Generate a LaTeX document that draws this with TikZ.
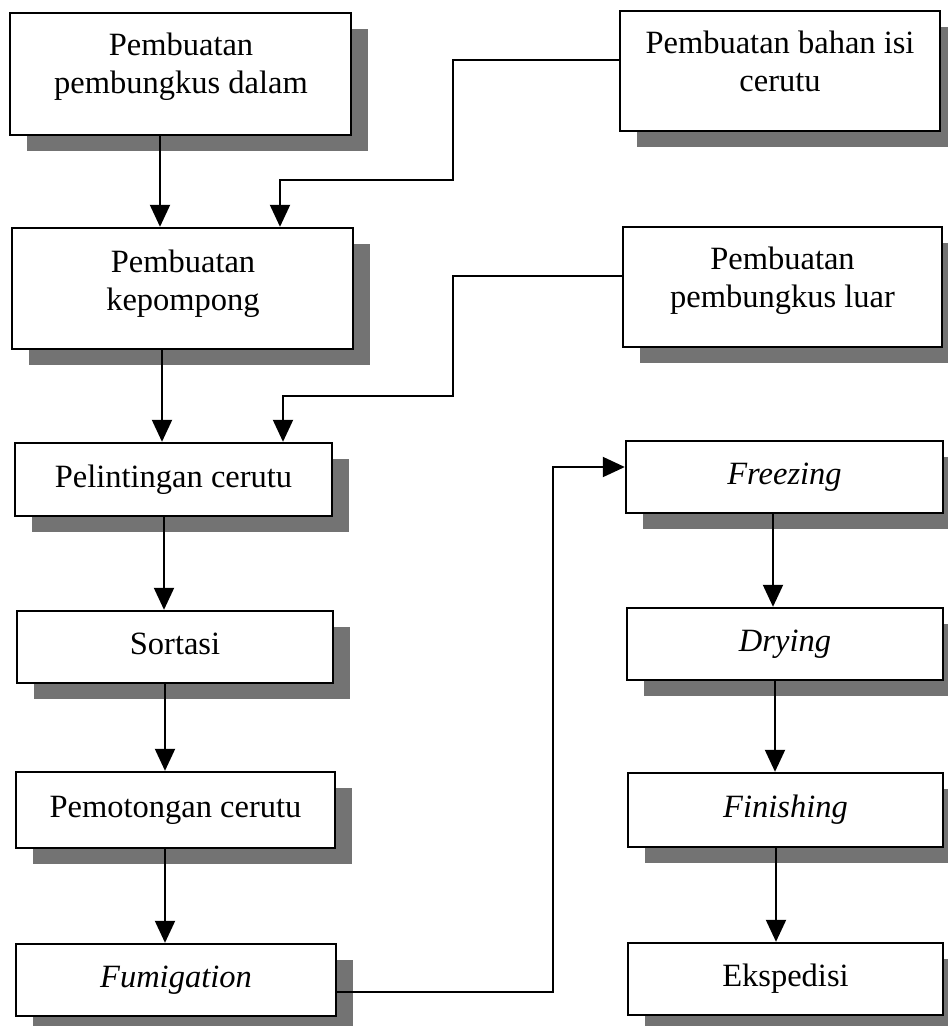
\documentclass[tikz,border=0pt]{standalone}
\usepackage{fontspec}
\setmainfont{Liberation Serif}
\usetikzlibrary{arrows.meta,shadows}
\begin{document}
\begin{tikzpicture}[x=1pt,y=-1pt,
  box/.style={draw=black, line width=2.4pt, fill=white, inner sep=0pt,
    general shadow={fill=black!55, shadow xshift=17pt, shadow yshift=-16pt}},
  txt/.style={font=\fontsize{32.5}{37.5}\selectfont, align=center, inner sep=0pt},
  one/.style={txt, text height=22pt, text depth=7pt},
  conn/.style={line width=2pt, -{Triangle[length=22pt,width=20pt]}},
]
\path[use as bounding box] (0,0) rectangle (948,1026);
\clip (0,0) rectangle (948,1026);

% left column
\node[box, minimum width=341pt, minimum height=122pt] (A) at (180.5,74) {};
\node[txt, anchor=north] (tA) at (181,33) {Pembuatan\\pembungkus dalam};
\node[box, minimum width=341pt, minimum height=121pt] (C) at (182.5,288.5) {};
\node[txt, anchor=north] (tC) at (183,250) {Pembuatan\\kepompong};
\node[box, one, minimum width=317pt, minimum height=73pt] (E) at (173.5,479.5) {Pelintingan cerutu};
\node[box, one, minimum width=316pt, minimum height=72pt] (G) at (175,647) {Sortasi};
\node[box, one, minimum width=319pt, minimum height=76pt] (I) at (175.5,810) {Pemotongan cerutu};
\node[box, one, minimum width=320pt, minimum height=72pt] (K) at (176,980) {\itshape Fumigation};

% right column
\node[box, minimum width=320pt, minimum height=120pt] (B) at (780,71) {};
\node[txt, anchor=north] (tB) at (780,31) {Pembuatan bahan isi\\cerutu};
\node[box, minimum width=319pt, minimum height=120pt] (D) at (782.5,287) {};
\node[txt, anchor=north] (tD) at (782.5,247) {Pembuatan\\pembungkus luar};
\node[box, one, minimum width=317pt, minimum height=72pt] (F) at (784.5,477) {\itshape Freezing};
\node[box, one, minimum width=316pt, minimum height=72pt] (H) at (785,644) {\itshape Drying};
\node[box, one, minimum width=315pt, minimum height=74pt] (J) at (785.5,810) {\itshape Finishing};
\node[box, one, minimum width=315pt, minimum height=72pt] (L) at (785.5,979) {Ekspedisi};

% connector guide coordinates
\coordinate (xAC) at (160,0);
\coordinate (xCE) at (162,0);
\coordinate (xEG) at (164,0);
\coordinate (xGI) at (165,0);
\coordinate (xIK) at (165,0);
\coordinate (xFH) at (773,0);
\coordinate (xHJ) at (775,0);
\coordinate (xJL) at (776,0);
\coordinate (b1) at (453,60);
\coordinate (b2) at (453,180);
\coordinate (b3) at (280,180);
\coordinate (d1) at (453,276);
\coordinate (d2) at (453,396);
\coordinate (d3) at (283,396);
\coordinate (k1) at (553,992);
\coordinate (k2) at (553,467);

% connectors
\draw[conn] (A.south -| xAC) -- (C.north -| xAC);
\draw[conn] (B.west |- b1) -- (b1) -- (b2) -- (b3) -- (C.north -| b3);
\draw[conn] (C.south -| xCE) -- (E.north -| xCE);
\draw[conn] (D.west |- d1) -- (d1) -- (d2) -- (d3) -- (E.north -| d3);
\draw[conn] (E.south -| xEG) -- (G.north -| xEG);
\draw[conn] (G.south -| xGI) -- (I.north -| xGI);
\draw[conn] (I.south -| xIK) -- (K.north -| xIK);
\draw[conn] (K.east |- k1) -- (k1) -- (k2) -- (F.west |- k2);
\draw[conn] (F.south -| xFH) -- (H.north -| xFH);
\draw[conn] (H.south -| xHJ) -- (J.north -| xHJ);
\draw[conn] (J.south -| xJL) -- (L.north -| xJL);
\end{tikzpicture}
\end{document}
